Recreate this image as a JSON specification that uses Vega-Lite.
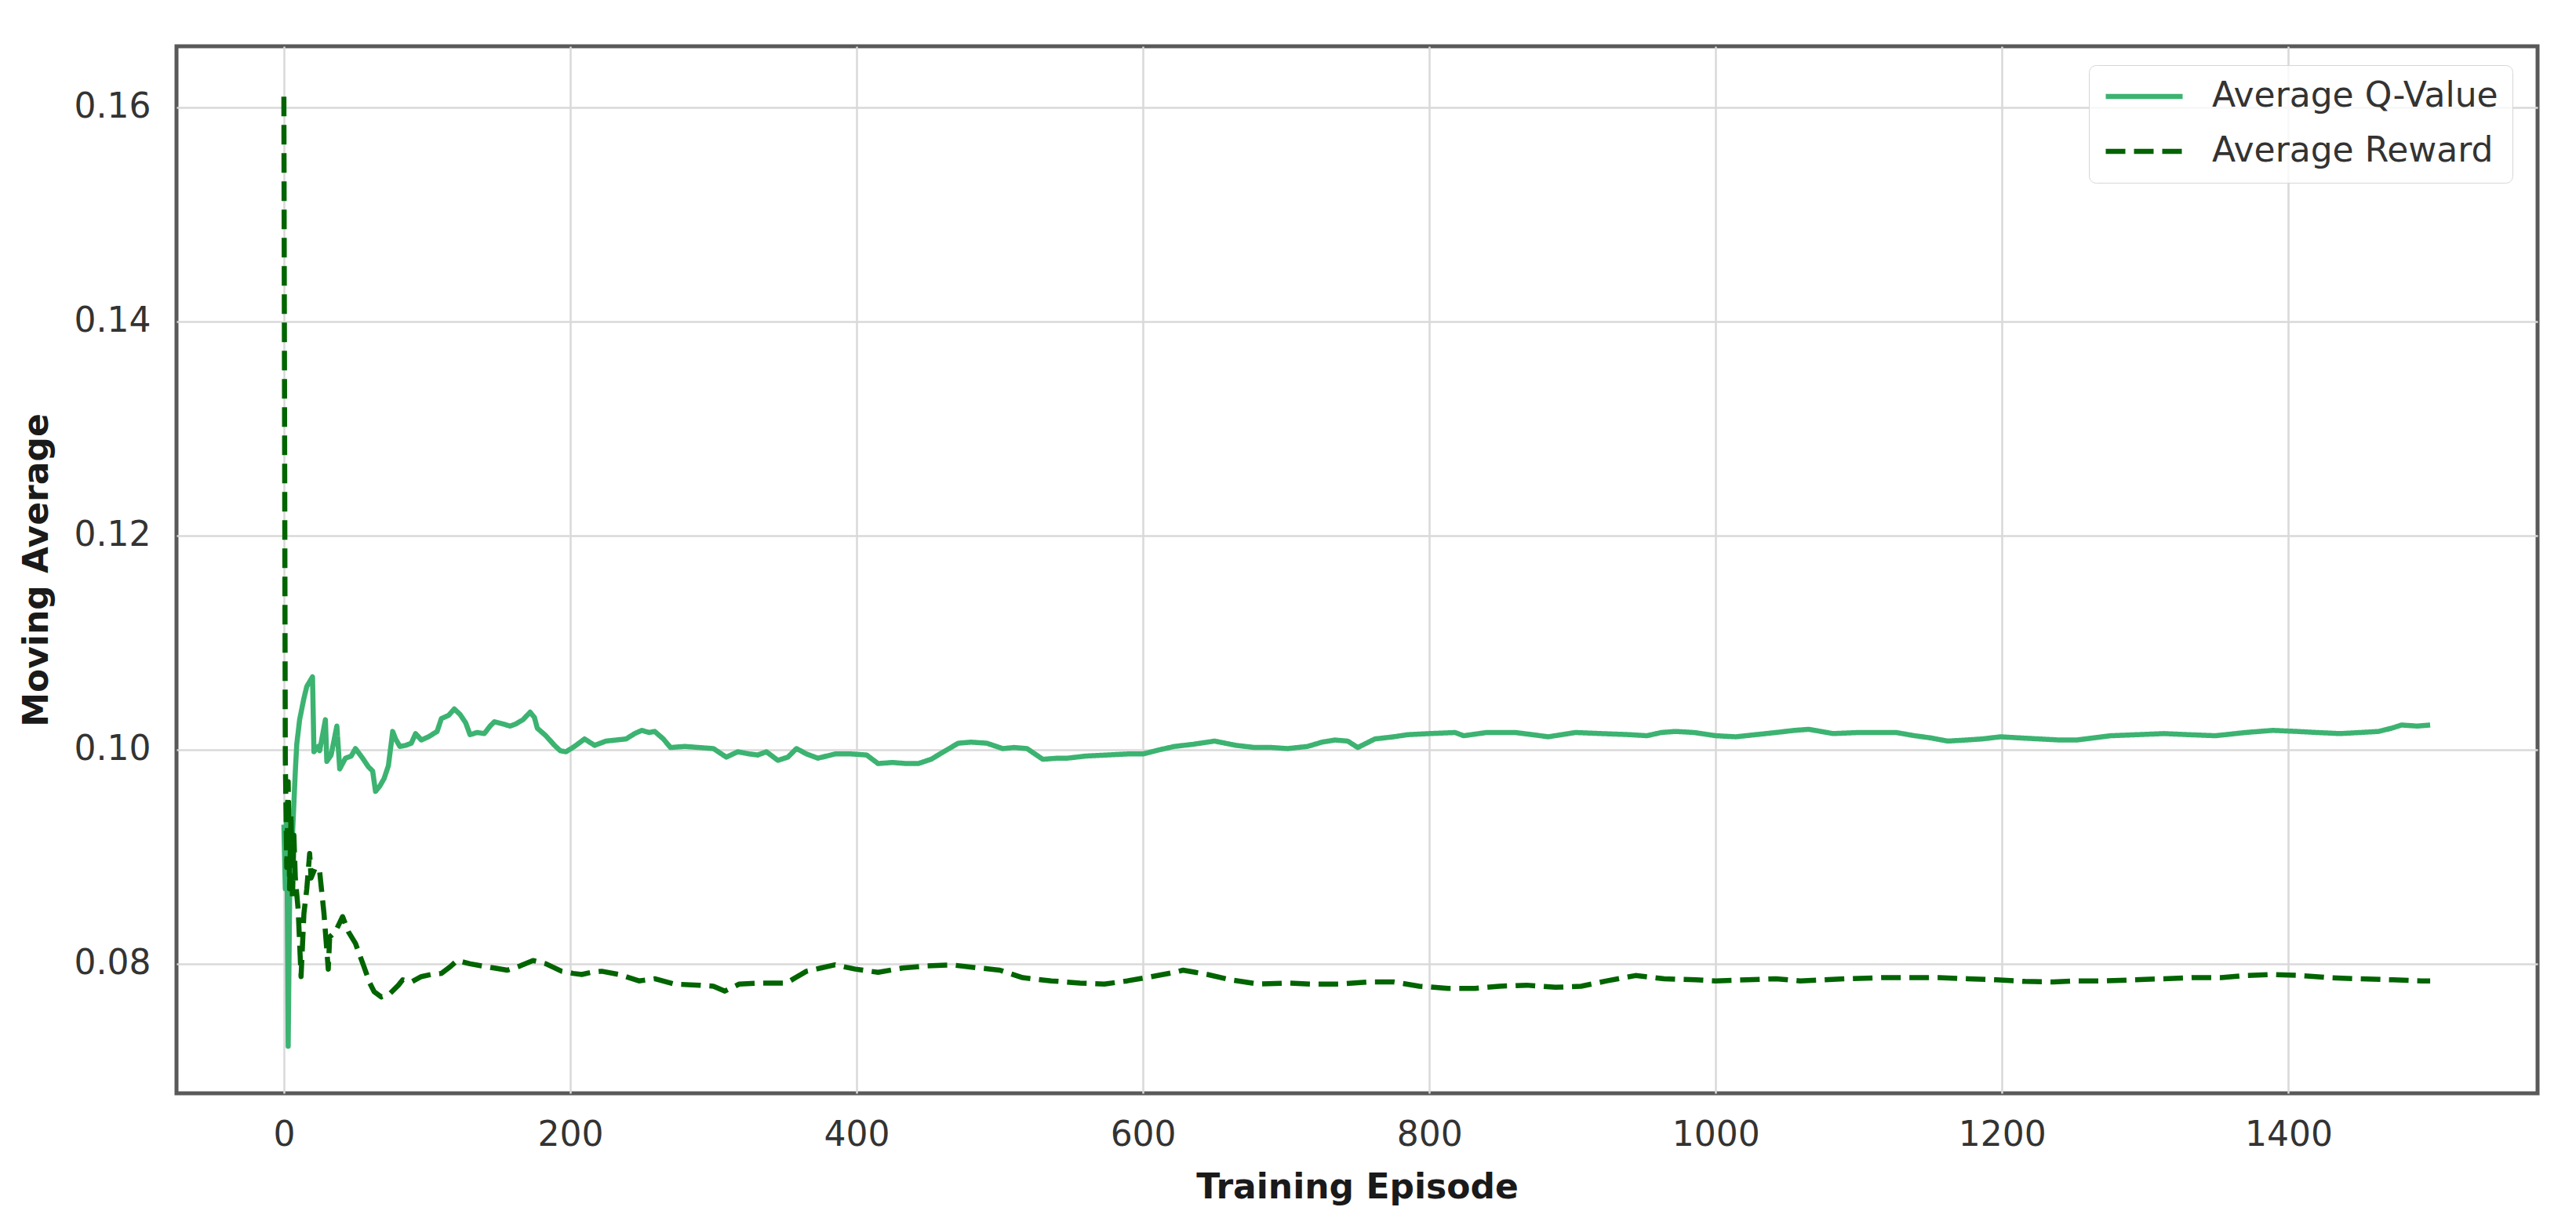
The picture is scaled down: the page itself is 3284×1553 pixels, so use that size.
{
 "$schema": "https://vega.github.io/schema/vega-lite/v6.json",
 "width": 3010,
 "height": 1335,
 "autosize": {"type": "none"},
 "padding": {"left": 225, "top": 59, "right": 49, "bottom": 159},
 "background": "white",
 "config": {
  "view": {"stroke": "#595959", "strokeWidth": 5},
  "font": "DejaVu Sans",
  "axis": {
   "domain": false, "ticks": false, "grid": true, "gridColor": "#d9d9d9", "gridWidth": 2.5,
   "labelFont": "DejaVu Sans", "labelFontSize": 44, "labelColor": "#333333",
   "titleFont": "DejaVu Sans", "titleFontSize": 44, "titleFontWeight": "bold", "titleColor": "#1a1a1a"
  },
  "legend": {
   "orient": "none", "legendX": 2438, "legendY": 24, "title": null,
   "padding": 18, "rowPadding": 26, "labelOffset": 34, "labelLimit": 2000, "clipHeight": 44,
   "labelFont": "DejaVu Sans", "labelFontSize": 44, "labelColor": "#333333",
   "symbolType": "stroke", "symbolSize": 9600, "symbolStrokeWidth": 6.5,
   "strokeColor": "#d6d6d6", "fillColor": "rgba(255,255,255,0.8)", "cornerRadius": 9
  }
 },
 "data": {"values": [
  {"episode":0,"series":"Average Q-Value","value":0.093},
  {"episode":1,"series":"Average Q-Value","value":0.087},
  {"episode":2,"series":"Average Q-Value","value":0.095},
  {"episode":3,"series":"Average Q-Value","value":0.0723},
  {"episode":4,"series":"Average Q-Value","value":0.086},
  {"episode":5,"series":"Average Q-Value","value":0.089},
  {"episode":6,"series":"Average Q-Value","value":0.092},
  {"episode":7,"series":"Average Q-Value","value":0.095},
  {"episode":8,"series":"Average Q-Value","value":0.098},
  {"episode":9,"series":"Average Q-Value","value":0.1005},
  {"episode":11,"series":"Average Q-Value","value":0.1028},
  {"episode":14,"series":"Average Q-Value","value":0.1048},
  {"episode":16,"series":"Average Q-Value","value":0.1059},
  {"episode":20,"series":"Average Q-Value","value":0.1068},
  {"episode":21,"series":"Average Q-Value","value":0.0998},
  {"episode":24,"series":"Average Q-Value","value":0.1003},
  {"episode":25,"series":"Average Q-Value","value":0.0999},
  {"episode":29,"series":"Average Q-Value","value":0.1028},
  {"episode":30,"series":"Average Q-Value","value":0.0989},
  {"episode":33,"series":"Average Q-Value","value":0.0995},
  {"episode":37,"series":"Average Q-Value","value":0.1022},
  {"episode":39,"series":"Average Q-Value","value":0.0982},
  {"episode":43,"series":"Average Q-Value","value":0.0992},
  {"episode":47,"series":"Average Q-Value","value":0.0994},
  {"episode":50,"series":"Average Q-Value","value":0.1001},
  {"episode":55,"series":"Average Q-Value","value":0.0992},
  {"episode":59,"series":"Average Q-Value","value":0.0984},
  {"episode":62,"series":"Average Q-Value","value":0.098},
  {"episode":64,"series":"Average Q-Value","value":0.0961},
  {"episode":67,"series":"Average Q-Value","value":0.0966},
  {"episode":70,"series":"Average Q-Value","value":0.0973},
  {"episode":73,"series":"Average Q-Value","value":0.0985},
  {"episode":76,"series":"Average Q-Value","value":0.1017},
  {"episode":78,"series":"Average Q-Value","value":0.101},
  {"episode":81,"series":"Average Q-Value","value":0.1003},
  {"episode":85,"series":"Average Q-Value","value":0.1004},
  {"episode":89,"series":"Average Q-Value","value":0.1006},
  {"episode":92,"series":"Average Q-Value","value":0.1015},
  {"episode":96,"series":"Average Q-Value","value":0.1009},
  {"episode":101,"series":"Average Q-Value","value":0.1012},
  {"episode":107,"series":"Average Q-Value","value":0.1017},
  {"episode":110,"series":"Average Q-Value","value":0.1029},
  {"episode":115,"series":"Average Q-Value","value":0.1032},
  {"episode":119,"series":"Average Q-Value","value":0.1038},
  {"episode":123,"series":"Average Q-Value","value":0.1033},
  {"episode":127,"series":"Average Q-Value","value":0.1025},
  {"episode":130,"series":"Average Q-Value","value":0.1014},
  {"episode":135,"series":"Average Q-Value","value":0.1016},
  {"episode":140,"series":"Average Q-Value","value":0.1015},
  {"episode":144,"series":"Average Q-Value","value":0.1022},
  {"episode":147,"series":"Average Q-Value","value":0.1026},
  {"episode":153,"series":"Average Q-Value","value":0.1024},
  {"episode":158,"series":"Average Q-Value","value":0.1022},
  {"episode":162,"series":"Average Q-Value","value":0.1024},
  {"episode":167,"series":"Average Q-Value","value":0.1028},
  {"episode":172,"series":"Average Q-Value","value":0.1035},
  {"episode":175,"series":"Average Q-Value","value":0.103},
  {"episode":177,"series":"Average Q-Value","value":0.102},
  {"episode":183,"series":"Average Q-Value","value":0.1013},
  {"episode":189,"series":"Average Q-Value","value":0.1004},
  {"episode":193,"series":"Average Q-Value","value":0.0999},
  {"episode":197,"series":"Average Q-Value","value":0.0998},
  {"episode":203,"series":"Average Q-Value","value":0.1003},
  {"episode":210,"series":"Average Q-Value","value":0.101},
  {"episode":217,"series":"Average Q-Value","value":0.1004},
  {"episode":225,"series":"Average Q-Value","value":0.1008},
  {"episode":232,"series":"Average Q-Value","value":0.1009},
  {"episode":239,"series":"Average Q-Value","value":0.101},
  {"episode":245,"series":"Average Q-Value","value":0.1015},
  {"episode":250,"series":"Average Q-Value","value":0.1018},
  {"episode":255,"series":"Average Q-Value","value":0.1016},
  {"episode":259,"series":"Average Q-Value","value":0.1017},
  {"episode":265,"series":"Average Q-Value","value":0.101},
  {"episode":270,"series":"Average Q-Value","value":0.1002},
  {"episode":280,"series":"Average Q-Value","value":0.1003},
  {"episode":290,"series":"Average Q-Value","value":0.1002},
  {"episode":300,"series":"Average Q-Value","value":0.1001},
  {"episode":309,"series":"Average Q-Value","value":0.0993},
  {"episode":317,"series":"Average Q-Value","value":0.0998},
  {"episode":325,"series":"Average Q-Value","value":0.0996},
  {"episode":331,"series":"Average Q-Value","value":0.0995},
  {"episode":337,"series":"Average Q-Value","value":0.0998},
  {"episode":345,"series":"Average Q-Value","value":0.099},
  {"episode":352,"series":"Average Q-Value","value":0.0993},
  {"episode":358,"series":"Average Q-Value","value":0.1001},
  {"episode":365,"series":"Average Q-Value","value":0.0996},
  {"episode":373,"series":"Average Q-Value","value":0.0992},
  {"episode":385,"series":"Average Q-Value","value":0.0996},
  {"episode":396,"series":"Average Q-Value","value":0.0996},
  {"episode":407,"series":"Average Q-Value","value":0.0995},
  {"episode":415,"series":"Average Q-Value","value":0.0987},
  {"episode":425,"series":"Average Q-Value","value":0.0988},
  {"episode":435,"series":"Average Q-Value","value":0.0987},
  {"episode":443,"series":"Average Q-Value","value":0.0987},
  {"episode":452,"series":"Average Q-Value","value":0.0991},
  {"episode":462,"series":"Average Q-Value","value":0.0999},
  {"episode":471,"series":"Average Q-Value","value":0.1006},
  {"episode":480,"series":"Average Q-Value","value":0.1007},
  {"episode":491,"series":"Average Q-Value","value":0.1006},
  {"episode":502,"series":"Average Q-Value","value":0.1001},
  {"episode":510,"series":"Average Q-Value","value":0.1002},
  {"episode":519,"series":"Average Q-Value","value":0.1001},
  {"episode":530,"series":"Average Q-Value","value":0.0991},
  {"episode":540,"series":"Average Q-Value","value":0.0992},
  {"episode":547,"series":"Average Q-Value","value":0.0992},
  {"episode":560,"series":"Average Q-Value","value":0.0994},
  {"episode":575,"series":"Average Q-Value","value":0.0995},
  {"episode":590,"series":"Average Q-Value","value":0.0996},
  {"episode":600,"series":"Average Q-Value","value":0.0996},
  {"episode":612,"series":"Average Q-Value","value":0.1},
  {"episode":622,"series":"Average Q-Value","value":0.1003},
  {"episode":635,"series":"Average Q-Value","value":0.1005},
  {"episode":650,"series":"Average Q-Value","value":0.1008},
  {"episode":665,"series":"Average Q-Value","value":0.1004},
  {"episode":678,"series":"Average Q-Value","value":0.1002},
  {"episode":690,"series":"Average Q-Value","value":0.1002},
  {"episode":701,"series":"Average Q-Value","value":0.1001},
  {"episode":715,"series":"Average Q-Value","value":0.1003},
  {"episode":725,"series":"Average Q-Value","value":0.1007},
  {"episode":734,"series":"Average Q-Value","value":0.1009},
  {"episode":743,"series":"Average Q-Value","value":0.1008},
  {"episode":750,"series":"Average Q-Value","value":0.1002},
  {"episode":762,"series":"Average Q-Value","value":0.101},
  {"episode":775,"series":"Average Q-Value","value":0.1012},
  {"episode":785,"series":"Average Q-Value","value":0.1014},
  {"episode":800,"series":"Average Q-Value","value":0.1015},
  {"episode":818,"series":"Average Q-Value","value":0.1016},
  {"episode":824,"series":"Average Q-Value","value":0.1013},
  {"episode":840,"series":"Average Q-Value","value":0.1016},
  {"episode":860,"series":"Average Q-Value","value":0.1016},
  {"episode":872,"series":"Average Q-Value","value":0.1014},
  {"episode":883,"series":"Average Q-Value","value":0.1012},
  {"episode":902,"series":"Average Q-Value","value":0.1016},
  {"episode":920,"series":"Average Q-Value","value":0.1015},
  {"episode":940,"series":"Average Q-Value","value":0.1014},
  {"episode":952,"series":"Average Q-Value","value":0.1013},
  {"episode":962,"series":"Average Q-Value","value":0.1016},
  {"episode":972,"series":"Average Q-Value","value":0.1017},
  {"episode":985,"series":"Average Q-Value","value":0.1016},
  {"episode":1000,"series":"Average Q-Value","value":0.1013},
  {"episode":1014,"series":"Average Q-Value","value":0.1012},
  {"episode":1028,"series":"Average Q-Value","value":0.1014},
  {"episode":1042,"series":"Average Q-Value","value":0.1016},
  {"episode":1055,"series":"Average Q-Value","value":0.1018},
  {"episode":1065,"series":"Average Q-Value","value":0.1019},
  {"episode":1082,"series":"Average Q-Value","value":0.1015},
  {"episode":1100,"series":"Average Q-Value","value":0.1016},
  {"episode":1115,"series":"Average Q-Value","value":0.1016},
  {"episode":1126,"series":"Average Q-Value","value":0.1016},
  {"episode":1139,"series":"Average Q-Value","value":0.1013},
  {"episode":1150,"series":"Average Q-Value","value":0.1011},
  {"episode":1162,"series":"Average Q-Value","value":0.1008},
  {"episode":1175,"series":"Average Q-Value","value":0.1009},
  {"episode":1186,"series":"Average Q-Value","value":0.101},
  {"episode":1199,"series":"Average Q-Value","value":0.1012},
  {"episode":1212,"series":"Average Q-Value","value":0.1011},
  {"episode":1226,"series":"Average Q-Value","value":0.101},
  {"episode":1240,"series":"Average Q-Value","value":0.1009},
  {"episode":1252,"series":"Average Q-Value","value":0.1009},
  {"episode":1264,"series":"Average Q-Value","value":0.1011},
  {"episode":1276,"series":"Average Q-Value","value":0.1013},
  {"episode":1295,"series":"Average Q-Value","value":0.1014},
  {"episode":1313,"series":"Average Q-Value","value":0.1015},
  {"episode":1330,"series":"Average Q-Value","value":0.1014},
  {"episode":1349,"series":"Average Q-Value","value":0.1013},
  {"episode":1370,"series":"Average Q-Value","value":0.1016},
  {"episode":1389,"series":"Average Q-Value","value":0.1018},
  {"episode":1406,"series":"Average Q-Value","value":0.1017},
  {"episode":1420,"series":"Average Q-Value","value":0.1016},
  {"episode":1436,"series":"Average Q-Value","value":0.1015},
  {"episode":1450,"series":"Average Q-Value","value":0.1016},
  {"episode":1463,"series":"Average Q-Value","value":0.1017},
  {"episode":1472,"series":"Average Q-Value","value":0.102},
  {"episode":1479,"series":"Average Q-Value","value":0.1023},
  {"episode":1490,"series":"Average Q-Value","value":0.1022},
  {"episode":1499,"series":"Average Q-Value","value":0.1023},
  {"episode":0,"series":"Average Reward","value":0.161},
  {"episode":1,"series":"Average Reward","value":0.0992},
  {"episode":2,"series":"Average Reward","value":0.089},
  {"episode":3,"series":"Average Reward","value":0.097},
  {"episode":4,"series":"Average Reward","value":0.087},
  {"episode":5,"series":"Average Reward","value":0.094},
  {"episode":6,"series":"Average Reward","value":0.086},
  {"episode":7,"series":"Average Reward","value":0.092},
  {"episode":8,"series":"Average Reward","value":0.088},
  {"episode":9,"series":"Average Reward","value":0.0865},
  {"episode":10,"series":"Average Reward","value":0.085},
  {"episode":12,"series":"Average Reward","value":0.0788},
  {"episode":14,"series":"Average Reward","value":0.0847},
  {"episode":16,"series":"Average Reward","value":0.087},
  {"episode":18,"series":"Average Reward","value":0.0903},
  {"episode":19,"series":"Average Reward","value":0.088},
  {"episode":22,"series":"Average Reward","value":0.089},
  {"episode":25,"series":"Average Reward","value":0.0886},
  {"episode":28,"series":"Average Reward","value":0.0847},
  {"episode":31,"series":"Average Reward","value":0.0795},
  {"episode":32,"series":"Average Reward","value":0.0825},
  {"episode":36,"series":"Average Reward","value":0.083},
  {"episode":41,"series":"Average Reward","value":0.0844},
  {"episode":45,"series":"Average Reward","value":0.083},
  {"episode":50,"series":"Average Reward","value":0.0819},
  {"episode":56,"series":"Average Reward","value":0.0797},
  {"episode":60,"series":"Average Reward","value":0.0782},
  {"episode":63,"series":"Average Reward","value":0.0774},
  {"episode":68,"series":"Average Reward","value":0.0769},
  {"episode":74,"series":"Average Reward","value":0.0772},
  {"episode":80,"series":"Average Reward","value":0.078},
  {"episode":83,"series":"Average Reward","value":0.0785},
  {"episode":89,"series":"Average Reward","value":0.0783},
  {"episode":96,"series":"Average Reward","value":0.0788},
  {"episode":103,"series":"Average Reward","value":0.079},
  {"episode":110,"series":"Average Reward","value":0.0791},
  {"episode":116,"series":"Average Reward","value":0.0797},
  {"episode":121,"series":"Average Reward","value":0.0803},
  {"episode":130,"series":"Average Reward","value":0.08},
  {"episode":138,"series":"Average Reward","value":0.0798},
  {"episode":147,"series":"Average Reward","value":0.0796},
  {"episode":156,"series":"Average Reward","value":0.0794},
  {"episode":165,"series":"Average Reward","value":0.0798},
  {"episode":174,"series":"Average Reward","value":0.0803},
  {"episode":183,"series":"Average Reward","value":0.08},
  {"episode":194,"series":"Average Reward","value":0.0793},
  {"episode":202,"series":"Average Reward","value":0.0791},
  {"episode":208,"series":"Average Reward","value":0.079},
  {"episode":215,"series":"Average Reward","value":0.0792},
  {"episode":222,"series":"Average Reward","value":0.0793},
  {"episode":234,"series":"Average Reward","value":0.079},
  {"episode":248,"series":"Average Reward","value":0.0784},
  {"episode":259,"series":"Average Reward","value":0.0786},
  {"episode":273,"series":"Average Reward","value":0.0781},
  {"episode":290,"series":"Average Reward","value":0.078},
  {"episode":300,"series":"Average Reward","value":0.0779},
  {"episode":308,"series":"Average Reward","value":0.07745},
  {"episode":318,"series":"Average Reward","value":0.0781},
  {"episode":334,"series":"Average Reward","value":0.0782},
  {"episode":351,"series":"Average Reward","value":0.0782},
  {"episode":365,"series":"Average Reward","value":0.0793},
  {"episode":375,"series":"Average Reward","value":0.0796},
  {"episode":385,"series":"Average Reward","value":0.0799},
  {"episode":399,"series":"Average Reward","value":0.0795},
  {"episode":415,"series":"Average Reward","value":0.0792},
  {"episode":432,"series":"Average Reward","value":0.0796},
  {"episode":449,"series":"Average Reward","value":0.0798},
  {"episode":466,"series":"Average Reward","value":0.0799},
  {"episode":486,"series":"Average Reward","value":0.0796},
  {"episode":500,"series":"Average Reward","value":0.0794},
  {"episode":516,"series":"Average Reward","value":0.0787},
  {"episode":536,"series":"Average Reward","value":0.0784},
  {"episode":556,"series":"Average Reward","value":0.0782},
  {"episode":573,"series":"Average Reward","value":0.0781},
  {"episode":589,"series":"Average Reward","value":0.0784},
  {"episode":606,"series":"Average Reward","value":0.0788},
  {"episode":622,"series":"Average Reward","value":0.0792},
  {"episode":628,"series":"Average Reward","value":0.0794},
  {"episode":645,"series":"Average Reward","value":0.079},
  {"episode":661,"series":"Average Reward","value":0.0785},
  {"episode":681,"series":"Average Reward","value":0.0781},
  {"episode":701,"series":"Average Reward","value":0.0782},
  {"episode":717,"series":"Average Reward","value":0.0781},
  {"episode":737,"series":"Average Reward","value":0.0781},
  {"episode":757,"series":"Average Reward","value":0.0783},
  {"episode":775,"series":"Average Reward","value":0.0783},
  {"episode":793,"series":"Average Reward","value":0.0779},
  {"episode":813,"series":"Average Reward","value":0.0777},
  {"episode":832,"series":"Average Reward","value":0.0777},
  {"episode":849,"series":"Average Reward","value":0.0779},
  {"episode":868,"series":"Average Reward","value":0.078},
  {"episode":888,"series":"Average Reward","value":0.0778},
  {"episode":906,"series":"Average Reward","value":0.0779},
  {"episode":924,"series":"Average Reward","value":0.0784},
  {"episode":944,"series":"Average Reward","value":0.0789},
  {"episode":964,"series":"Average Reward","value":0.0786},
  {"episode":986,"series":"Average Reward","value":0.0785},
  {"episode":1000,"series":"Average Reward","value":0.0784},
  {"episode":1022,"series":"Average Reward","value":0.0785},
  {"episode":1042,"series":"Average Reward","value":0.0786},
  {"episode":1059,"series":"Average Reward","value":0.0784},
  {"episode":1075,"series":"Average Reward","value":0.0785},
  {"episode":1092,"series":"Average Reward","value":0.0786},
  {"episode":1116,"series":"Average Reward","value":0.0787},
  {"episode":1136,"series":"Average Reward","value":0.0787},
  {"episode":1156,"series":"Average Reward","value":0.0787},
  {"episode":1176,"series":"Average Reward","value":0.0786},
  {"episode":1196,"series":"Average Reward","value":0.0785},
  {"episode":1216,"series":"Average Reward","value":0.07835},
  {"episode":1236,"series":"Average Reward","value":0.0783},
  {"episode":1252,"series":"Average Reward","value":0.0784},
  {"episode":1272,"series":"Average Reward","value":0.0784},
  {"episode":1292,"series":"Average Reward","value":0.0785},
  {"episode":1313,"series":"Average Reward","value":0.0786},
  {"episode":1333,"series":"Average Reward","value":0.0787},
  {"episode":1353,"series":"Average Reward","value":0.0787},
  {"episode":1369,"series":"Average Reward","value":0.0789},
  {"episode":1389,"series":"Average Reward","value":0.079},
  {"episode":1409,"series":"Average Reward","value":0.0789},
  {"episode":1429,"series":"Average Reward","value":0.0787},
  {"episode":1449,"series":"Average Reward","value":0.0786},
  {"episode":1473,"series":"Average Reward","value":0.0785},
  {"episode":1493,"series":"Average Reward","value":0.0784},
  {"episode":1499,"series":"Average Reward","value":0.0784}
 ]},
 "mark": {"type": "line", "strokeWidth": 6.5, "strokeCap": "butt", "strokeJoin": "round"},
 "encoding": {
  "x": {
   "field": "episode", "type": "quantitative",
   "scale": {"domain": [-75, 1574], "nice": false, "zero": false},
   "axis": {"values": [0, 200, 400, 600, 800, 1000, 1200, 1400], "format": "d", "labelPadding": 31,
            "title": "Training Episode", "titleY": 133, "titleBaseline": "alphabetic"}
  },
  "y": {
   "field": "value", "type": "quantitative",
   "scale": {"domain": [0.0679, 0.1657], "nice": false, "zero": false},
   "axis": {"values": [0.08, 0.10, 0.12, 0.14, 0.16], "format": ".2f", "labelPadding": 33,
            "title": "Moving Average", "titleAngle": 270, "titleX": -165, "titleY": 667.5,
            "titleAlign": "center", "titleBaseline": "alphabetic"}
  },
  "color": {
   "field": "series", "type": "nominal",
   "scale": {"domain": ["Average Q-Value", "Average Reward"], "range": ["#3cb371", "#006400"]},
   "legend": {"title": null}
  },
  "strokeDash": {
   "field": "series", "type": "nominal",
   "scale": {"domain": ["Average Q-Value", "Average Reward"], "range": [[1, 0], [25, 11]]},
   "legend": {"title": null}
  }
 }
}
